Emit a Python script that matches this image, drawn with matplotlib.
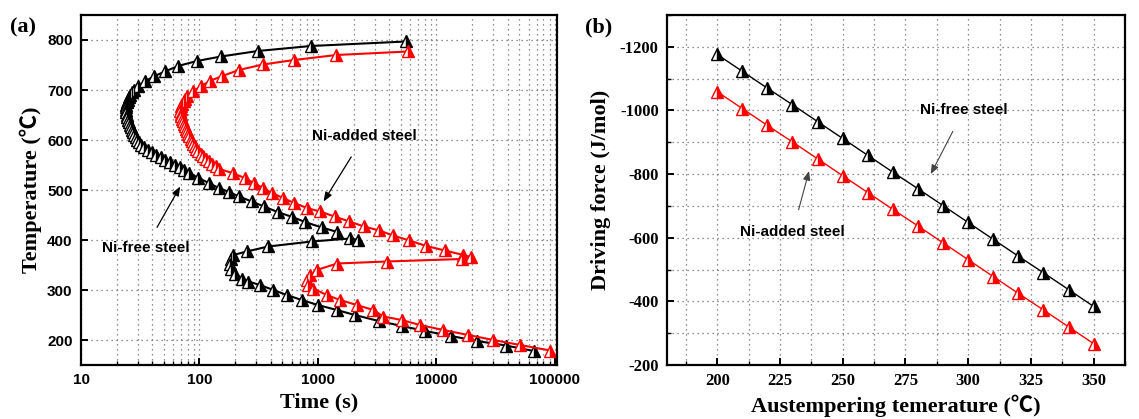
import numpy as np
import matplotlib.pyplot as plt
from matplotlib.ticker import FixedLocator, NullFormatter, LogLocator

plt.rcParams['axes.unicode_minus'] = False

# ---- panel (a): TTT curves, time (s) vs temperature (C) ----
# Ni-free steel, upper C-curve (ordered along the curve)
free_up_T = [797, 788, 778, 767, 758, 748, 737, 727, 717, 708, 700, 695, 690, 685, 680,
             675, 670, 665, 660, 655, 650, 645, 640, 635, 630, 625, 620, 615, 610, 605,
             600, 595, 590, 585, 580, 575, 570, 565, 560, 555, 550, 545, 540, 534, 524,
             514, 504, 496, 487, 477, 467, 456, 446, 436, 425, 416]
free_up_t = [5550, 870, 310, 152, 95, 66, 51, 41, 34.5, 30.5, 28.0, 27.0, 26.1, 25.4, 24.9,
             24.5, 24.2, 24.0, 24.0, 24.1, 24.3, 24.6, 25.0, 25.4, 25.9, 26.4, 27.0, 27.6, 28.2, 28.9,
             29.6, 30.6, 32.0, 34.0, 36.5, 39.5, 43, 47.5, 51.5, 56.5, 62, 68, 74, 82, 98,
             120, 145, 178, 215, 276, 350, 456, 607, 778, 1075, 1460]
# Ni-free steel, lower C-curve
free_lo_T = [400, 403, 397, 387, 377, 370, 362, 353, 343, 333, 323, 317, 310, 300, 290,
             280, 270, 260, 250, 238, 228, 218, 208, 198, 189, 178]
free_lo_t = [2190, 1860, 885, 380, 250, 193, 184, 181, 186, 200, 227, 258, 324, 420, 545,
             728, 1000, 1440, 2050, 3250, 5100, 8000, 13300, 22000, 38500, 66000]

# Ni-added steel, upper C-curve
added_up_T = [777, 770, 760, 751, 740, 728, 718, 707, 697, 687, 682, 677, 672, 667, 662,
              657, 652, 647, 642, 637, 632, 627, 622, 617, 612, 607, 602, 597, 592, 587,
              582, 577, 572, 567, 562, 557, 552, 547, 542, 534, 524, 514, 504, 494, 484,
              474, 464, 457, 447, 437, 427, 419, 409, 399, 388, 379, 370, 366]
added_up_t = [5750, 1430, 628, 343, 215, 156, 122, 102, 88, 79, 76, 73.5, 71.5, 70, 69.3,
              69, 69.3, 70, 71, 72.5, 74, 75.5, 77, 79, 80.5, 82, 84, 86, 88.5, 91,
              94, 98, 102, 107, 113, 120, 128, 137, 147, 190, 240, 287, 343, 409, 507,
              628, 807, 1038, 1380, 1837, 2444, 3300, 4300, 5900, 8200, 11800, 16800, 19500]
# Ni-added steel, lower C-curve
added_lo_T = [362, 357, 353, 340, 330, 320, 310, 303, 290, 280, 270, 260, 247, 240, 230,
              220, 210, 200, 190, 179]
added_lo_t = [16500, 3800, 1450, 975, 860, 803, 830, 910, 1183, 1535, 2125, 2930, 3560, 5080, 7260,
              11400, 18500, 30200, 50700, 91000]

# ---- panel (b): driving force vs austempering temperature ----
aus_temp = [200, 210, 220, 230, 240, 250, 260, 270, 280, 290, 300, 310, 320, 330, 340, 350]
force_free = [-1176, -1123, -1070, -1018, -965, -912, -859, -806, -754, -701, -648, -595,
              -542, -490, -437, -384]
force_added = [-1059, -1006, -953, -901, -848, -795, -742, -689, -637, -584, -531, -478,
               -425, -373, -320, -267]

serif = ['Liberation Serif', 'Noto Sans CJK SC']
sans = 'Liberation Sans'
red = '#ff0000'

fig = plt.figure(figsize=(11.39, 4.19), dpi=100)
ax1 = fig.add_axes([81 / 1139, 1 - 365 / 419, 476 / 1139, 350 / 419])
ax2 = fig.add_axes([667 / 1139, 1 - 365 / 419, 458 / 1139, 350 / 419])


def tri_line(ax, x, y, color, lw, ms):
    ax.plot(x, y, '-', color=color, lw=lw, marker='^', ms=ms, fillstyle='right',
            markerfacecolor=color, markerfacecoloralt='white', markeredgecolor=color,
            markeredgewidth=1.0)


def style_axes(ax):
    for s in ax.spines.values():
        s.set_linewidth(1.6)
    ax.tick_params(which='both', direction='in', top=False, right=False)
    ax.tick_params(which='major', length=5, width=1.4, pad=6)
    ax.tick_params(which='minor', length=3, width=1.0)
    ax.grid(True, which='both', linestyle=(0, (1, 3)), color='#6a6a6a', lw=0.9)
    ax.set_axisbelow(True)


# panel (a)
tri_line(ax1, free_up_t, free_up_T, 'black', 1.5, 8.5)
tri_line(ax1, free_lo_t, free_lo_T, 'black', 1.5, 8.5)
tri_line(ax1, added_up_t, added_up_T, red, 1.5, 8.5)
tri_line(ax1, added_lo_t, added_lo_T, red, 1.5, 8.5)
ax1.set_xscale('log')
ax1.set_xlim(10, 1.04e5)
ax1.set_ylim(150, 850)
ax1.set_xticks([10, 100, 1000, 10000, 100000])
ax1.set_xticklabels(['10', '100', '1000', '10000', '100000'])
ax1.xaxis.set_minor_locator(LogLocator(base=10, subs=np.arange(2, 10)))
ax1.xaxis.set_minor_formatter(NullFormatter())
ax1.set_yticks([200, 300, 400, 500, 600, 700, 800])
style_axes(ax1)
ax1.grid(False, which='minor', axis='y')
for lab in ax1.get_xticklabels() + ax1.get_yticklabels():
    lab.set_family(sans)
    lab.set_fontweight('bold')
    lab.set_fontsize(11)
ax1.set_xlabel('Time (s)', family=serif, fontweight='bold', fontsize=16, labelpad=4)
ax1.set_ylabel('Temperature (\u2103)', family=serif, fontweight='bold', fontsize=16, labelpad=4)
ax1.annotate('Ni-added steel', xy=(1114, 477), xytext=(2440, 607), ha='center', va='center',
             family=sans, fontweight='bold', fontsize=11,
             arrowprops=dict(arrowstyle='-|>,head_length=0.5,head_width=0.2', color='black',
                             lw=0.9, shrinkA=9, shrinkB=0))
ax1.annotate('Ni-free steel', xy=(68.7, 507), xytext=(34.9, 384), ha='center', va='center',
             family=sans, fontweight='bold', fontsize=11,
             arrowprops=dict(arrowstyle='-|>,head_length=0.5,head_width=0.2', color='black',
                             lw=0.9, shrinkA=9, shrinkB=0))
fig.text(10 / 1139, 1 - 27 / 419, '(a)', family=serif, fontweight='bold', fontsize=16,
         va='center', ha='left')

# panel (b)
tri_line(ax2, aus_temp, force_free, 'black', 1.0, 8.5)
tri_line(ax2, aus_temp, force_added, red, 1.0, 8.5)
ax2.set_xlim(180, 362.5)
ax2.set_ylim(-200, -1300)
ax2.set_xticks([200, 225, 250, 275, 300, 325, 350])
ax2.xaxis.set_minor_locator(FixedLocator([187.5, 212.5, 237.5, 262.5, 287.5, 312.5, 337.5, 362.5]))
ax2.set_yticks([-1200, -1000, -800, -600, -400, -200])
ax2.yaxis.set_minor_locator(FixedLocator([-1300, -1100, -900, -700, -500, -300]))
style_axes(ax2)
for lab in ax2.get_xticklabels() + ax2.get_yticklabels():
    lab.set_family(serif)
    lab.set_fontweight('bold')
    lab.set_fontsize(12)
ax2.set_xlabel('Austempering temerature (\u2103)', family=serif, fontweight='bold', fontsize=16,
               labelpad=4)
ax2.set_ylabel('Driving force (J/mol)', family=serif, fontweight='bold', fontsize=16, labelpad=6)
ax2.annotate('Ni-free steel', xy=(285.1, -800), xytext=(298.2, -1000), ha='center', va='center',
             family=sans, fontweight='bold', fontsize=11,
             arrowprops=dict(arrowstyle='-|>,head_length=0.5,head_width=0.2', color='#444444',
                             lw=0.8, shrinkA=9, shrinkB=0))
ax2.annotate('Ni-added steel', xy=(236.6, -810), xytext=(230.1, -619), ha='center', va='center',
             family=sans, fontweight='bold', fontsize=11,
             arrowprops=dict(arrowstyle='-|>,head_length=0.5,head_width=0.2', color='#444444',
                             lw=0.8, shrinkA=9, shrinkB=0))
fig.text(585 / 1139, 1 - 27 / 419, '(b)', family=serif, fontweight='bold', fontsize=16,
         va='center', ha='left')

fig.savefig('out.png', dpi=100)
